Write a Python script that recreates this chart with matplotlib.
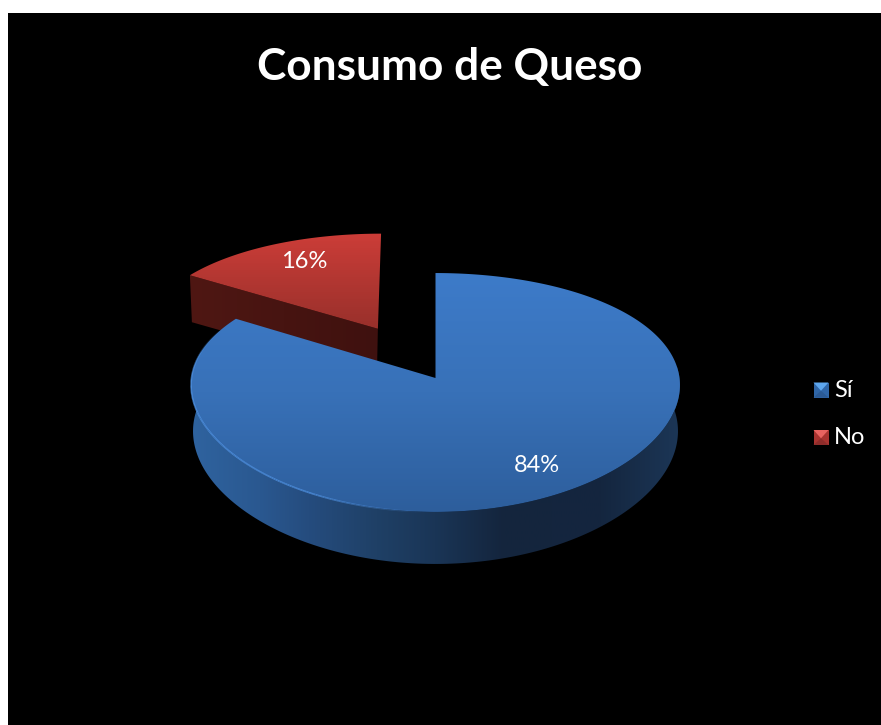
import numpy as np
import matplotlib
matplotlib.use("Agg")
import matplotlib.pyplot as plt
from matplotlib.colors import LinearSegmentedColormap as LSC
from matplotlib.patches import Polygon, Rectangle
from matplotlib.collections import LineCollection

title = "Consumo de Queso"
categories = ["Sí", "No"]
values = [84, 16]

W, H = 881, 725
fig = plt.figure(figsize=(W / 100, H / 100), dpi=100, facecolor="white")
ax = fig.add_axes([0, 0, 1, 1])
ax.set_xlim(0, W)
ax.set_ylim(H, 0)
ax.axis("off")
ax.add_patch(Rectangle((8, 13), W - 8, H - 13, fc="black", ec="none", zorder=0))
FONT = "Lato"

# projection of the tilted pie disc to the picture
CX, CY, R, S, KX, KY, DEPTH = 435.5, 378.0, 244.0, 117.7, 0.06, 0.1213, 45.7
def proj(u, v, lift=0.0, xs=1.0):
    u, v = np.asarray(u, float), np.asarray(v, float)
    return (CX + xs * R * u / (1 + KX * v),
            CY - S * v / (1 + KY * v) + lift / (1 + KY * v))

def arc(a0, a1, n=240):
    t = np.radians(np.linspace(a0, a1, n))
    return np.sin(t), np.cos(t)

def grad(poly, stops, box, vertical=True, z=2):
    cmap = LSC.from_list("g", stops)
    ramp = np.linspace(0, 1, 256)
    ramp = ramp[:, None] if vertical else ramp[None, :]
    im = ax.imshow(ramp, cmap=cmap, extent=[box[0], box[1], box[3], box[2]],
                   aspect="auto", zorder=z, vmin=0, vmax=1, interpolation="bilinear")
    p = Polygon(poly, closed=True, transform=ax.transData, fc="none", ec="none")
    ax.add_patch(p)
    im.set_clip_path(p)
    ax.set_xlim(0, W)
    ax.set_ylim(H, 0)

total = sum(values)
split = 360.0 * values[0] / total            # Sí runs clockwise from 12 o'clock
mid_no = (split + 360.0) / 2
mid_si = split / 2

# ---- exploded "No" slice
EXPL = 0.503
u0 = EXPL * np.sin(np.radians(mid_no))
v0 = EXPL * np.cos(np.radians(mid_no))
ua, va = arc(split, 360, 80)
ux, vx = proj(u0 + 0.975 * ua, v0 + va)
ax0, ay0 = proj(u0, v0)
# front cut face
face = [(ux[0], vx[0]), (ax0, ay0), (ax0 - 1, ay0 + 46), (ux[0] + 2, vx[0] + 47)]
grad(face, ["#4f1713", "#3f110f"], (ux[0], ax0, 0, H), vertical=False, z=2)
top_red = list(zip(ux, vx)) + [(ax0, ay0)]
grad(top_red, ["#cc3d38", "#98302b"], (150, 420, vx.min(), ay0), z=3)

# ---- "Sí" slice side wall
ub, vb = arc(84, 283)
tx, ty = proj(ub, vb)
bx, by = proj(ub, vb, DEPTH, 0.992)
side = list(zip(tx, ty)) + list(zip(bx[::-1], by[::-1]))
side_stops = [(0.0, "#2f639f"), (0.14, "#2a5890"), (0.24, "#254c7e"), (0.38, "#1f4066"),
              (0.5, "#1a3556"), (0.64, "#14253d"), (0.84, "#14263f"), (1.0, "#1c3656")]
grad(side, side_stops, (tx.min(), tx.max(), 0, H), vertical=False, z=4)

# ---- "Sí" slice top
ut, vt = arc(0, split, 400)
sx, sy = proj(ut, vt)
top_blue = list(zip(sx, sy)) + [(CX, CY)]
grad(top_blue, ["#3d7bc9", "#3871b8", "#2d5e9c"], (150, 720, sy.min(), sy.max()), z=5)

# soft bright rim on the lower left of the top surface
ur, vr = arc(182, 296, 200)
rx, ry = proj(ur, vr)
pts = np.column_stack([rx, ry])
segs = np.stack([pts[:-1], pts[1:]], axis=1)
fade = np.clip(np.sin(np.linspace(0, np.pi, len(segs))) * 1.5, 0, 1) * 0.7
cols = [(0.33, 0.60, 0.93, a) for a in fade]
ax.add_collection(LineCollection(segs, colors=cols, linewidths=1.2, zorder=6))

# ---- data labels
def label(u, v, txt, dx):
    x, y = proj(u, v)
    ax.text(x + dx, y, txt, color="white", fontsize=17, family=FONT,
            ha="center", va="center", zorder=8)
label(0.78 * np.sin(np.radians(mid_si)), 0.78 * np.cos(np.radians(mid_si)),
      f"{values[0]}%", 6)
label(u0 + 0.78 * np.sin(np.radians(mid_no)), v0 + 0.78 * np.cos(np.radians(mid_no)),
      f"{values[1]}%", 10)

# ---- legend
def key(y, base, light, dark):
    x0, s = 813.5, 15.0
    ax.add_patch(Rectangle((x0, y), s, s, fc=base, ec="none", zorder=6))
    ax.add_patch(Polygon([(x0, y), (x0 + s, y), (x0 + s / 2, y + s * 0.55)],
                         fc=light, ec="none", zorder=7))
    ax.add_patch(Polygon([(x0, y + s), (x0 + s, y + s), (x0 + s / 2, y + s * 0.55)],
                         fc=dark, ec="none", zorder=7))

key(382.5, "#2f66a8", "#5da6ee", "#2b5a95")
key(430.0, "#a83330", "#e86360", "#8e2c2a")
for name, yy in zip(categories, (390, 437.5)):
    ax.text(834, yy, name, color="white", fontsize=17, family=FONT,
            ha="left", va="center", zorder=8)

ax.text(450, 67, title, color="white", fontsize=31.8, fontweight="bold", family=FONT,
        ha="center", va="center", zorder=8)

fig.savefig("out.png", dpi=100, facecolor="white")
